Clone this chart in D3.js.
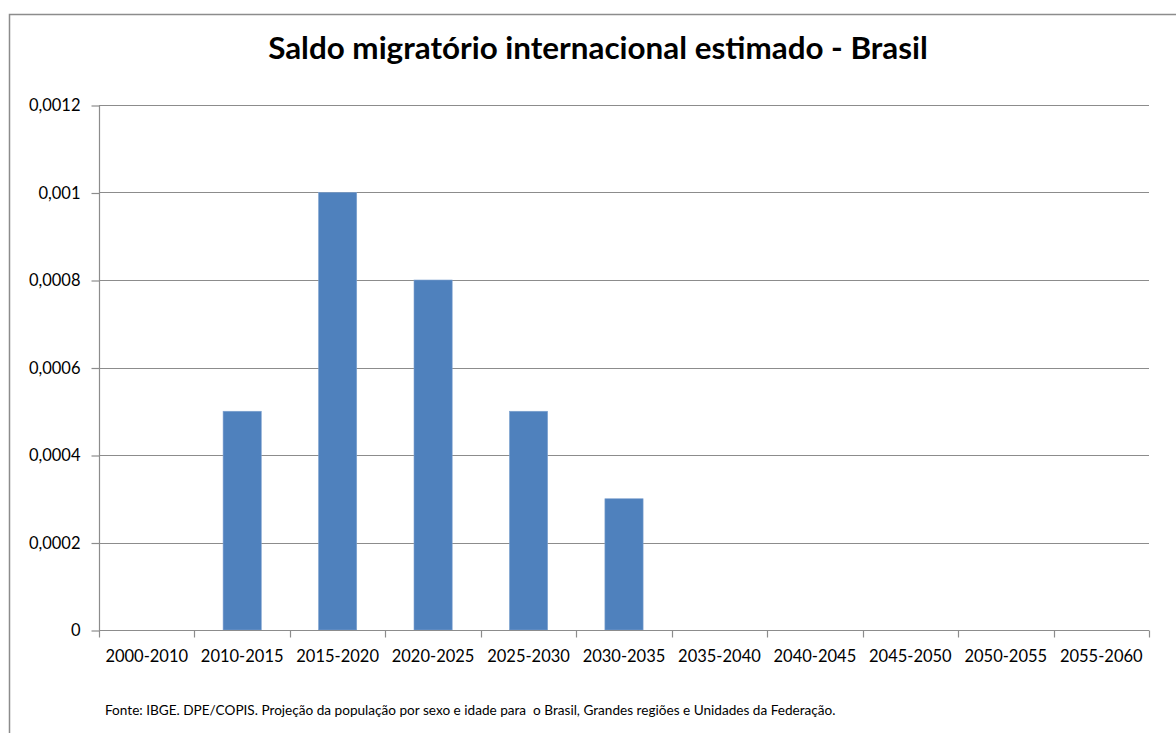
<!DOCTYPE html>
<html>
<head>
<meta charset="utf-8">
<script src="https://cdn.jsdelivr.net/npm/d3@7"></script>
<style>
  body { margin: 0; background: #fff; }
</style>
</head>
<body>
<div class="main"></div>
<script>
// Dados do gráfico
const periodos = ['2000-2010', '2010-2015', '2015-2020', '2020-2025', '2025-2030', '2030-2035',
                  '2035-2040', '2040-2045', '2045-2050', '2050-2055', '2055-2060'];
const saldo = [0, 0.0005, 0.001, 0.0008, 0.0005, 0.0003, 0, 0, 0, 0, 0];
const yTicks = [0, 0.0002, 0.0004, 0.0006, 0.0008, 0.001, 0.0012];
const titulo = 'Saldo migratório internacional estimado - Brasil';
const fonte = 'Fonte: IBGE. DPE/COPIS. Projeção da população por sexo e idade para  o Brasil, Grandes regiões e Unidades da Federação.';

const width = 1176;
const height = 733;
const margin = { top: 105, right: 27, bottom: 103, left: 99 };
const fontFamily = 'Lato, "Open Sans", sans-serif';

const svg = d3.select('.main')
  .append('svg')
  .attr('width', width)
  .attr('height', height)
  .style('font-family', fontFamily);

// Moldura do gráfico
svg.append('rect')
  .attr('x', 9.5)
  .attr('y', 14.5)
  .attr('width', width + 20)
  .attr('height', height + 20)
  .attr('fill', 'none')
  .attr('stroke', '#8c8c8c')
  .attr('stroke-width', 1.5);

const x = d3.scaleBand()
  .domain(periodos)
  .range([margin.left, width - margin.right])
  .paddingInner(0.6)
  .paddingOuter(0.3);

const xEdge = d3.scaleLinear()
  .domain([0, periodos.length])
  .range([margin.left, width - margin.right]);

const y = d3.scaleLinear()
  .domain([0, 0.0012])
  .range([height - margin.bottom, margin.top]);

// Linhas de grade
svg.append('g')
  .selectAll('line')
  .data(yTicks.slice(1))
  .enter()
  .append('line')
  .attr('x1', margin.left)
  .attr('x2', width - margin.right)
  .attr('y1', d => Math.round(y(d)) + 0.5)
  .attr('y2', d => Math.round(y(d)) + 0.5)
  .attr('stroke', '#8c8c8c')
  .attr('stroke-width', 1);

// Barras
svg.append('g')
  .selectAll('rect')
  .data(periodos.map((p, i) => ({ periodo: p, valor: saldo[i] })).filter(d => d.valor > 0))
  .enter()
  .append('rect')
  .attr('x', d => x(d.periodo))
  .attr('y', d => y(d.valor))
  .attr('width', x.bandwidth())
  .attr('height', d => y(0) - y(d.valor))
  .attr('fill', '#4f81bd')
  .attr('stroke', '#7fa2d0')
  .attr('stroke-width', 0.6);

// Eixo vertical
const yAxis = svg.append('g')
  .attr('transform', `translate(${margin.left + 0.5}, 0.5)`)
  .call(d3.axisLeft(y)
    .tickValues(yTicks)
    .tickSize(8)
    .tickPadding(11)
    .tickFormat(d => d === 0 ? '0' : String(+d.toFixed(4)).replace('.', ',')));
yAxis.selectAll('line, path').attr('stroke', '#8c8c8c').attr('stroke-width', 1.2);
yAxis.selectAll('text').attr('font-size', 16.5).attr('fill', '#000').attr('font-family', fontFamily);
yAxis.select('.domain').attr('d', `M0,${y(0)}V${y(0.0012)}`);

// Eixo horizontal
const xAxis = svg.append('g')
  .attr('transform', `translate(0, ${Math.round(y(0)) + 0.5})`);
xAxis.append('line')
  .attr('x1', margin.left)
  .attr('x2', width - margin.right)
  .attr('stroke', '#8c8c8c')
  .attr('stroke-width', 1.2);
xAxis.selectAll('.tick-mark')
  .data(d3.range(periodos.length + 1))
  .enter()
  .append('line')
  .attr('x1', i => Math.round(xEdge(i)) + 0.5)
  .attr('x2', i => Math.round(xEdge(i)) + 0.5)
  .attr('y1', 0)
  .attr('y2', 7)
  .attr('stroke', '#8c8c8c')
  .attr('stroke-width', 1.2);
xAxis.selectAll('text')
  .data(periodos)
  .enter()
  .append('text')
  .attr('x', d => x(d) + x.bandwidth() / 2)
  .attr('y', 31)
  .attr('text-anchor', 'middle')
  .attr('font-size', 16.5)
  .attr('fill', '#000')
  .text(d => d);

// Título
svg.append('text')
  .attr('x', 598)
  .attr('y', 59)
  .attr('text-anchor', 'middle')
  .attr('font-size', 31.4)
  .attr('font-weight', 'bold')
  .attr('fill', '#000')
  .text(titulo);

// Fonte
svg.append('text')
  .attr('x', 105)
  .attr('y', 715)
  .attr('font-size', 13.6)
  .attr('fill', '#000')
  .style('white-space', 'pre')
  .text(fonte);
</script>
</body>
</html>
